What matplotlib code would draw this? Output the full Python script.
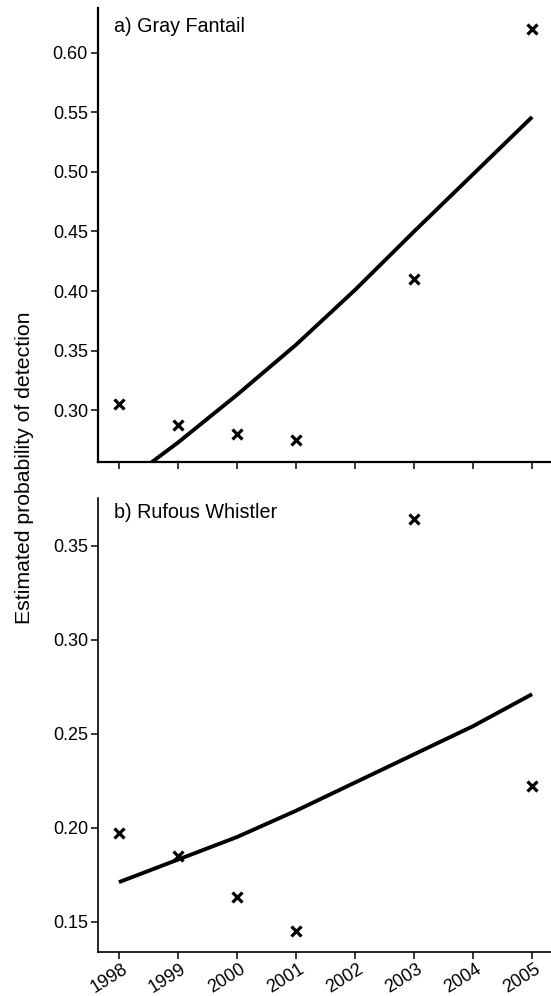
import matplotlib
matplotlib.use("Agg")
import matplotlib.pyplot as plt
import matplotlib.transforms as mtransforms

plt.rcParams['font.family'] = ['Liberation Sans', 'DejaVu Sans']

years = [1998, 1999, 2000, 2001, 2002, 2003, 2004, 2005]

# observed detection estimates (no survey in 2002 and 2004)
obs_years = [1998, 1999, 2000, 2001, 2003, 2005]
fantail_obs = [0.305, 0.288, 0.280, 0.275, 0.410, 0.620]
whistler_obs = [0.197, 0.185, 0.163, 0.145, 0.364, 0.222]

# fitted trend at each year
fantail_fit = [0.236, 0.273, 0.313, 0.355, 0.401, 0.450, 0.498, 0.546]
whistler_fit = [0.171, 0.183, 0.195, 0.209, 0.224, 0.239, 0.254, 0.271]

panels = [
    ("a) Gray Fantail", fantail_obs, fantail_fit, (0.257, 0.6374),
     [0.30, 0.35, 0.40, 0.45, 0.50, 0.55, 0.60], 0.959, 1.6),
    ("b) Rufous Whistler", whistler_obs, whistler_fit, (0.1337, 0.3752),
     [0.15, 0.20, 0.25, 0.30, 0.35], 0.969, 1.2),
]

fig = plt.figure(figsize=(5.51, 9.96), dpi=100)
ax_top = fig.add_axes([0.1773, 0.5365, 0.8227, 0.4555])
ax_bot = fig.add_axes([0.1773, 0.0439, 0.8227, 0.4558])

for ax, (title, obs, fit, ylim, yt, ty, slw) in zip([ax_top, ax_bot], panels):
    ax.plot(years, fit, color='black', lw=2.8, solid_capstyle='butt')
    ax.plot(obs_years, obs, 'x', color='black', ms=6.5, mew=2.3)
    ax.set_xlim(1997.64, 2005.32)
    ax.set_ylim(*ylim)
    ax.set_yticks(yt)
    ax.set_yticklabels([f"{v:.2f}" for v in yt])
    ax.set_xticks(years)
    for s in ['top', 'right']:
        ax.spines[s].set_visible(False)
    for s in ['left', 'bottom']:
        ax.spines[s].set_linewidth(slw)
    ax.tick_params(direction='out', length=5, width=1.1, labelsize=13, pad=2)
    ax.text(0.036, ty, title, transform=ax.transAxes, fontsize=14.2,
            ha='left', va='center')

ax_top.set_xticklabels([])
ax_bot.set_xticklabels([str(y) for y in years], rotation=32,
                       rotation_mode='anchor', ha='right', va='center')
ax_bot.tick_params(axis='x', pad=6)
# nudge the slanted year labels a little to the right
shift = mtransforms.ScaledTranslation(7 / 100, 0, fig.dpi_scale_trans)
for lab in ax_bot.get_xticklabels():
    lab.set_transform(lab.get_transform() + shift)

fig.text(0.045, 0.530, "Estimated probability of detection", rotation=90,
         fontsize=15.3, ha='center', va='center')

fig.savefig("out.png", dpi=100)
